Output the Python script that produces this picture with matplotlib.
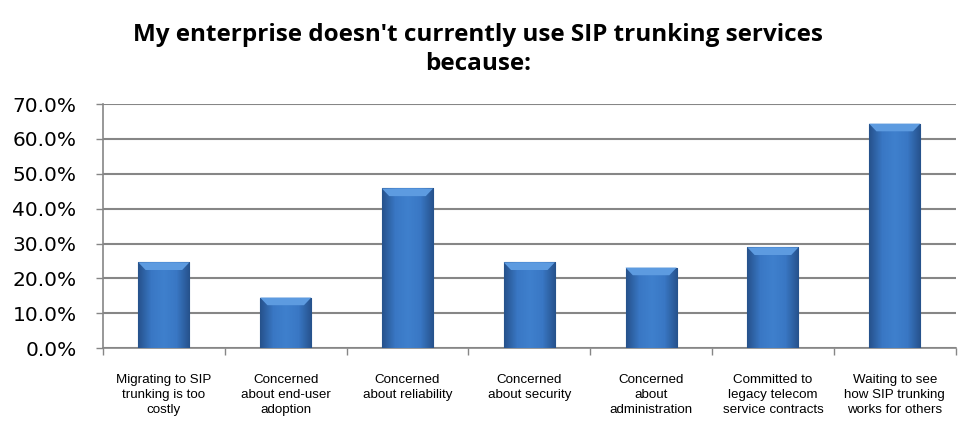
import numpy as np
import matplotlib.pyplot as plt
from matplotlib.colors import LinearSegmentedColormap
from matplotlib.patches import Polygon

title_lines = ["My enterprise doesn't currently use SIP trunking services", "because:"]
categories = [
    "Migrating to SIP\ntrunking is too\ncostly",
    "Concerned\nabout end-user\nadoption",
    "Concerned\nabout reliability",
    "Concerned\nabout security",
    "Concerned\nabout\nadministration",
    "Committed to\nlegacy telecom\nservice contracts",
    "Waiting to see\nhow SIP trunking\nworks for others",
]
values = [24.6, 14.5, 45.8, 24.6, 23.1, 28.9, 64.4]
yticks = [0, 10, 20, 30, 40, 50, 60, 70]

fig = plt.figure(figsize=(9.58, 4.25), dpi=100)
ax = fig.add_axes([0.1075, 0.181, 0.89, 0.574])

x = np.arange(len(categories))
width = 0.42
bars = ax.bar(x, values, width=width, color="#3a77c2", edgecolor="#23508a",
              linewidth=0.8, zorder=3)

# horizontal shading across each bar: darker at the sides, lighter in the middle
cmap = LinearSegmentedColormap.from_list(
    "bevel", ["#26528c", "#3977c4", "#3f80cd", "#3977c4", "#26528c"])
grad = np.linspace(0, 1, 64).reshape(1, -1)
bev_x = 0.06   # bevel depth in data units along x
bev_y = 2.2    # bevel depth in data units along y
for b in bars:
    x0, y0 = b.get_x(), b.get_y()
    w, h = b.get_width(), b.get_height()
    im = ax.imshow(grad, cmap=cmap, aspect="auto",
                   extent=(x0, x0 + w, y0, y0 + h), zorder=3.5)
    im.set_clip_path(b)
    # lighter bevel along the top edge
    top = Polygon([(x0, y0 + h), (x0 + w, y0 + h),
                   (x0 + w - bev_x, y0 + h - bev_y), (x0 + bev_x, y0 + h - bev_y)],
                  closed=True, facecolor="#5d9be0", edgecolor="none", zorder=3.6)
    ax.add_patch(top)

ax.set_xlim(-0.5, len(categories) - 0.5)
ax.set_ylim(0, 70)
ax.set_yticks(yticks)
ax.set_yticklabels([f"{v:.1f}%" for v in yticks], fontsize=14.5,
                   family="DejaVu Sans")
ax.yaxis.grid(True, color="#868686", linewidth=1.5, zorder=0)
ax.set_axisbelow(True)

ax.set_xticks(x)
ax.set_xticklabels(categories, fontsize=9.6, family="Liberation Sans",
                   linespacing=1.3, va="top")
ax.tick_params(axis="x", length=0, pad=19)
ax.set_xticks(np.arange(-0.5, len(categories)), minor=True)
ax.tick_params(axis="x", which="minor", length=5, color="#868686", width=1)
ax.tick_params(axis="y", length=5, color="#868686", width=1, pad=14)

for side in ["top", "right"]:
    ax.spines[side].set_visible(False)
for side in ["left", "bottom"]:
    ax.spines[side].set_color("#868686")
    ax.spines[side].set_linewidth(1.2)

fig.text(0.499, 1 - 41 / 425, title_lines[0], ha="center", va="baseline",
         fontsize=17.5, fontweight="bold", family="Open Sans")
fig.text(0.499, 1 - 70 / 425, title_lines[1], ha="center", va="baseline",
         fontsize=17.5, fontweight="bold", family="Open Sans")

fig.savefig("out.png", dpi=100)
